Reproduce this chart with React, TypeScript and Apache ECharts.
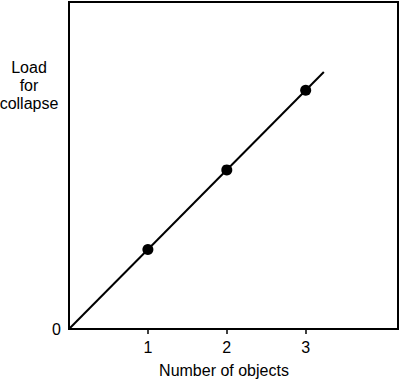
import React, { useEffect, useRef } from "react";
import * as echarts from "echarts";

const objects = [1, 2, 3];
const loads = [1, 2, 3];
const fitLine = [
  [0, 0],
  [3.23, 3.23],
];
const xTicks = [1, 2, 3];
const yTickLabels = ["0"];

export default function App() {
  const ref = useRef<HTMLDivElement>(null);
  useEffect(() => {
    document.body.style.margin = "0";
    const chart = echarts.init(ref.current!, null, { renderer: "svg" });
    const font = "Liberation Sans, Arial, sans-serif";
    chart.setOption({
      animation: false,
      grid: {
        left: 69,
        right: 2,
        top: 2,
        bottom: 51,
        show: true,
        borderColor: "#000",
        borderWidth: 2,
        outerBoundsMode: "none",
        containLabel: false,
      },
      xAxis: {
        type: "value",
        min: 0,
        max: 4.17,
        interval: 1,
        splitLine: { show: false },
        axisLine: { show: true, lineStyle: { color: "#000", width: 2 } },
        axisTick: {
          show: true,
          customValues: xTicks,
          length: 5,
          lineStyle: { color: "#000", width: 1.5 },
        },
        axisLabel: {
          customValues: xTicks,
          color: "#000",
          fontSize: 16,
          fontFamily: font,
          margin: 10,
        },
        name: "Number of objects",
        nameLocation: "middle",
        nameGap: 33,
        nameTextStyle: {
          color: "#000",
          fontSize: 16,
          fontFamily: font,
          padding: [0, 19, 0, 0],
        },
      },
      yAxis: {
        type: "value",
        min: 0,
        max: 4.11,
        splitLine: { show: false },
        axisLine: { show: true, lineStyle: { color: "#000", width: 2 } },
        axisTick: { show: false },
        axisLabel: {
          customValues: [0],
          formatter: () => yTickLabels[0],
          color: "#000",
          fontSize: 16,
          fontFamily: font,
          margin: 8,
          padding: [0, 0, 4, 0],
        },
      },
      graphic: [
        {
          type: "text",
          x: 29,
          y: 85,
          style: {
            text: "Load\nfor\ncollapse",
            fill: "#000",
            font: `16px ${font}`,
            align: "center",
            verticalAlign: "middle",
            lineHeight: 18,
          },
        },
      ],
      series: [
        {
          type: "line",
          data: fitLine,
          symbol: "none",
          lineStyle: { color: "#000", width: 2 },
          z: 2,
        },
        {
          type: "scatter",
          data: objects.map((o, i) => [o, loads[i]]),
          symbolSize: 11,
          itemStyle: { color: "#000", opacity: 1 },
          z: 3,
        },
      ],
    });
    return () => chart.dispose();
  }, []);
  return <div ref={ref} style={{ width: 400, height: 380 }} />;
}
